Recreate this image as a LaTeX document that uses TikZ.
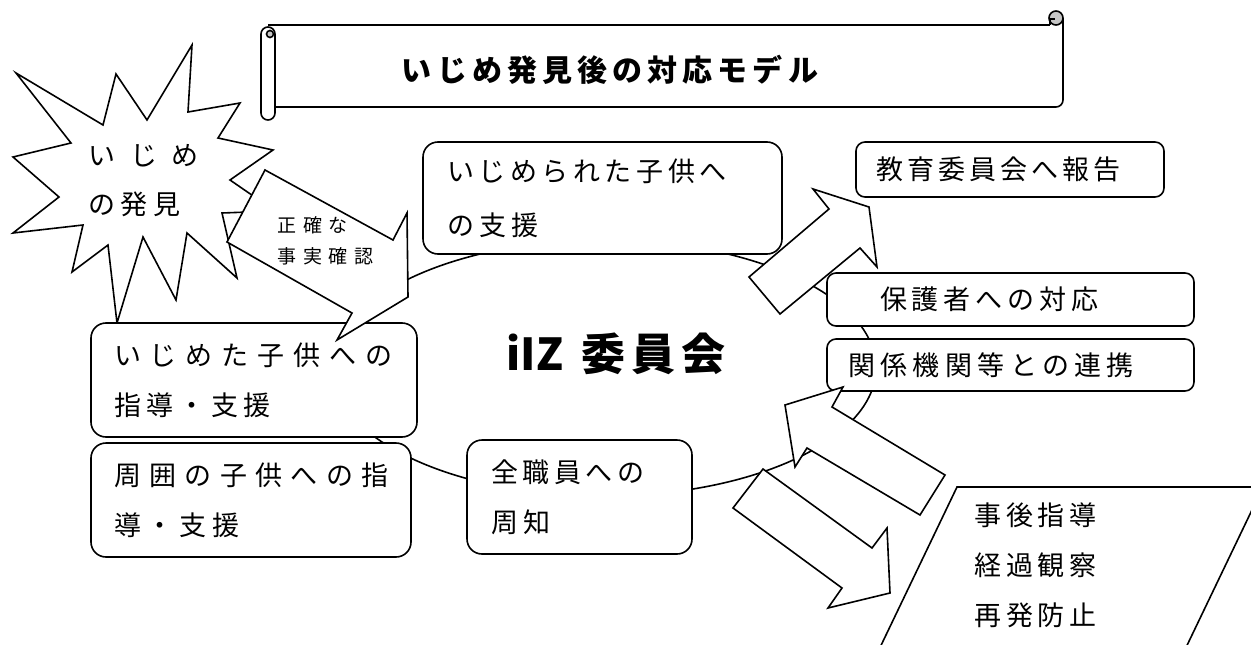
\documentclass[tikz,border=0pt]{standalone}
\usepackage{fontspec}
\setmainfont{Noto Sans CJK JP}
\newcommand{\lsp}[1]{\addfontfeature{LetterSpace=#1}}

\begin{document}
\begin{tikzpicture} [x=1pt, y=-1pt, line width=1.6pt,
  kbox/.style = {draw, fill=white, rounded corners=15pt, align=left,
                 inner ysep=0pt, font=\fontsize{27}{50}\selectfont},
  sbox/.style = {kbox, rounded corners=9pt},
  blk/.style = {draw, fill=white, line join=miter},
  note/.style = {anchor=west, align=left, inner sep=0pt}]

\useasboundingbox (0,0) rectangle (1251,645);
\clip (0,0) rectangle (1251,645);

% committee ring
\draw [fill=white] (604,368) ellipse [x radius=272pt, y radius=128pt];

% scroll
\fill [white] (275,25) rectangle (1063,107);
\draw (268,25) -- (1050,25);
\draw (1063,18) -- (1063,100) arc [start angle=0, end angle=-90, radius=7pt] -- (275,107);
\draw [fill=gray!45] (1056,18) circle [radius=7pt];
\draw (1050,25) -- (1050,19) -- (1055,19);
\draw [fill=white] (261,34) -- (261,113) arc [start angle=180, end angle=360, radius=7pt]
  -- (275,34) arc [start angle=0, end angle=180, radius=7pt] -- cycle;
\draw [fill=gray!45] (270,34) circle [radius=3.5pt];
\node (title) [font=\fontsize{30}{30}\selectfont\bfseries] at (610,70) {\lsp{17}いじめ発見後の対応モデル};

% burst
\draw [blk] (16,73) -- (103,125) -- (116,74) -- (147,120) -- (192,45) -- (188,112)
  -- (240,103) -- (218,138) -- (273,150) -- (230,180) -- (275,211) -- (222,213)
  -- (237,278) -- (187,233) -- (176,300) -- (143,237) -- (117,323) -- (108,245)
  -- (72,272) -- (83,225) -- (13,233) -- (59,197) -- (13,157) -- (71,143) -- cycle;
\node (found) [note, font=\fontsize{27}{49}\selectfont] at (88,181) {{\lsp{54}いじめ}\\{\lsp{19}の発見}};

\node (victim) [kbox, minimum height=112pt, inner xsep=24pt, text width=311pt,
  font=\fontsize{27}{54}\selectfont] at (602.5,198) {{\lsp{17}いじめられた子供へ}\\{\lsp{19}の支援}};
\node (bully) [kbox, minimum height=114pt, inner xsep=23pt, text width=280pt]
  at (254,380) {{\lsp{33}いじめた子供への}\\{\lsp{20}指導・支援}};
\node (others) [kbox, minimum height=114pt, inner xsep=23pt, text width=274pt]
  at (251,500) {{\lsp{31}周囲の子供への指}\\{\lsp{22}導・支援}};
\node (staff) [kbox, minimum height=114pt, inner xsep=24pt, text width=177pt]
  at (579.5,497) {{\lsp{17}全職員への}\\{\lsp{19}周知}};

% fact check
\draw [blk] (265,170) -- (393,240) -- (407,213) -- (408,297) -- (337,340) -- (352,313) -- (227,242) -- cycle;
\node (check) [note, font={\fontsize{19}{31}\selectfont\lsp{34}}] at (277,240.5) {正確な\\事実確認};

% right side
\draw [blk] (749,277) -- (829,209) -- (813,189) -- (869,207) -- (877,267) -- (860,248) -- (780,314) -- cycle;
\node (board) [sbox, minimum height=55pt, inner xsep=20pt, text width=268pt]
  at (1010,169.5) {\lsp{15}教育委員会へ報告};
\node (parents) [sbox, minimum height=53pt, inner xsep=53pt, text width=261pt]
  at (1010.5,299.5) {\lsp{18}保護者への対応};
\node (agencies) [sbox, minimum height=52pt, inner xsep=21pt, text width=325pt]
  at (1010.5,365) {\lsp{20}関係機関等との連携};
\draw [blk] (785,405) -- (843,387) -- (832,407) -- (945,475) -- (920,515) -- (807,448) -- (795,467) -- cycle;
\draw [blk] (763,469) -- (872,548) -- (887,528) -- (890,593) -- (828,608) -- (842,588) -- (733,508) -- cycle;

% follow-up
\draw [fill=white] (957,487) -- (1263,487) -- (1180,660) -- (874,660) -- cycle;
\node (after) [note, font={\fontsize{27}{50}\selectfont\lsp{17}}] at (974,565) {事後指導\\経過観察\\再発防止};

\node (iiz) [note, font=\fontsize{44}{44}\selectfont\bfseries] at (506,354) {iIZ\hspace{18pt}{\lsp{14}委員会}};

\end{tikzpicture}
\end{document}
